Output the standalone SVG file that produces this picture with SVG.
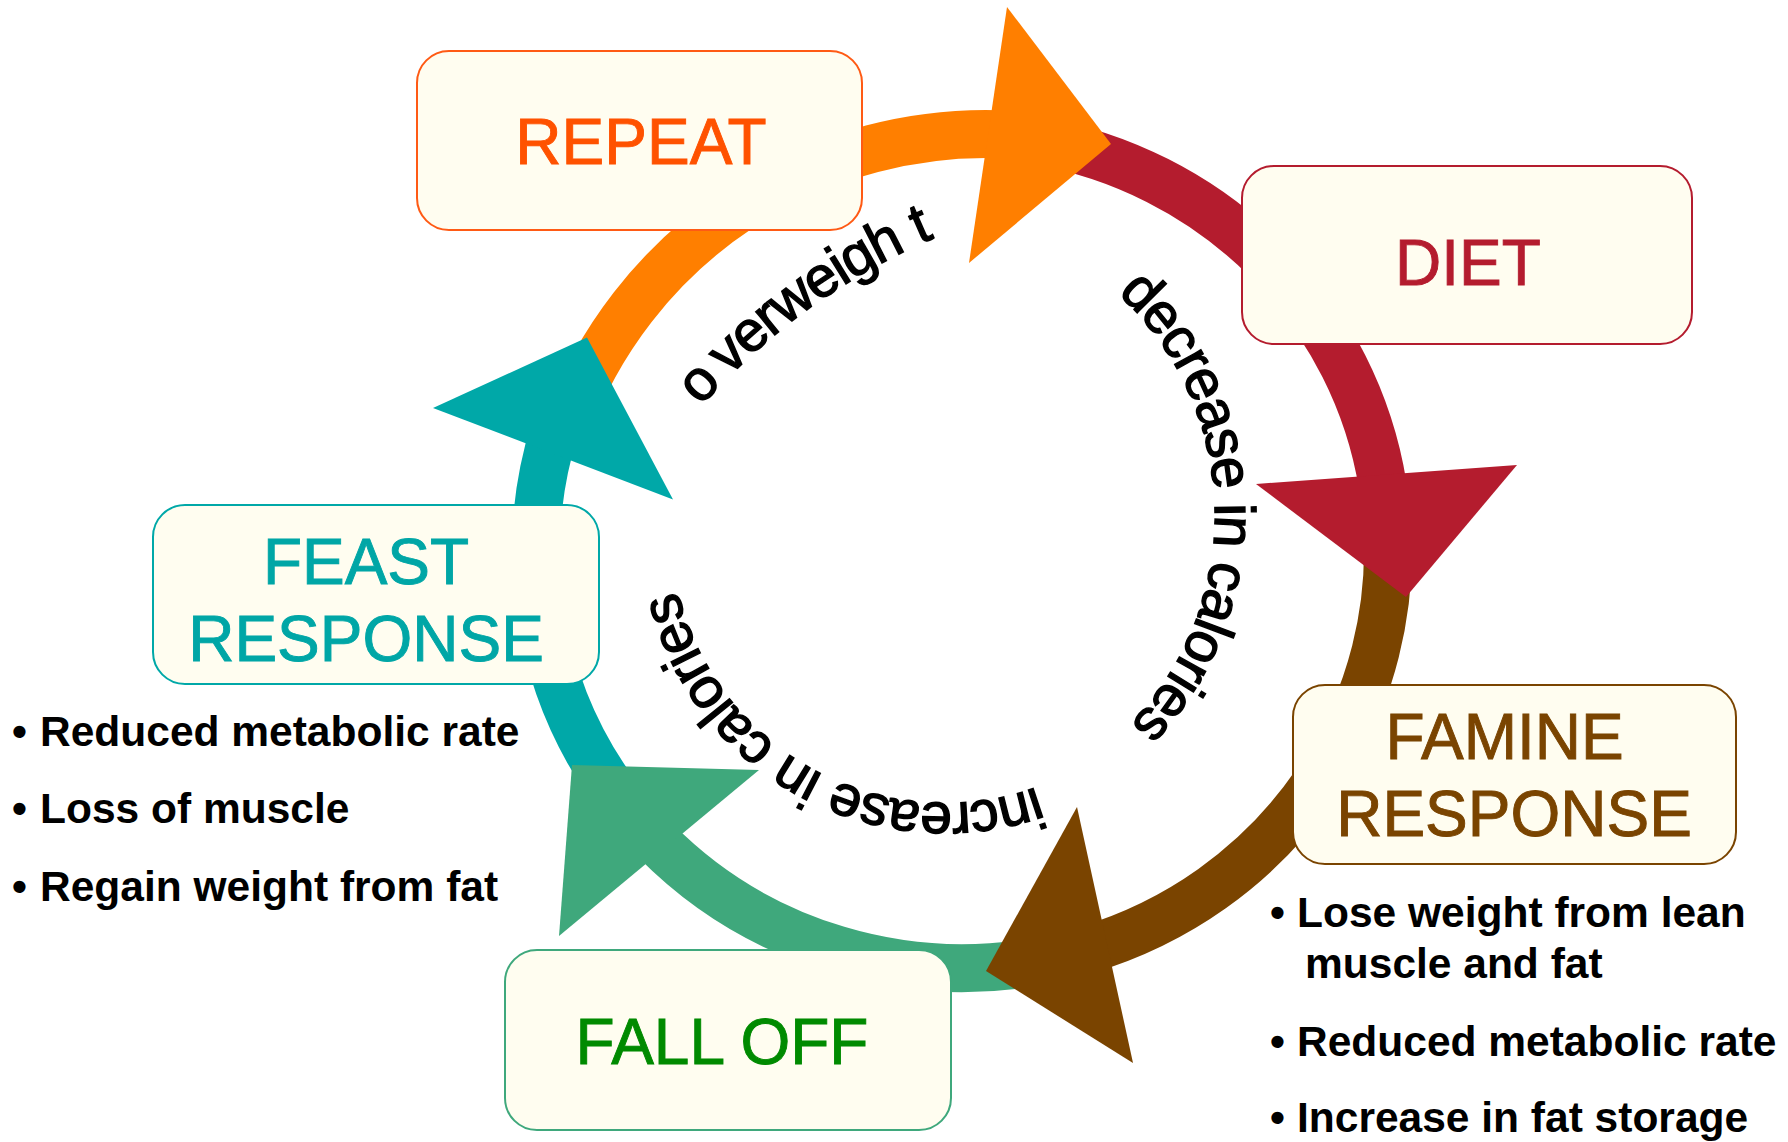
<svg xmlns="http://www.w3.org/2000/svg" width="1788" height="1142" viewBox="0 0 1788 1142">
<defs>
<style>
.band{fill:none;stroke-width:48;stroke-linecap:butt}
.box{fill:#FFFDF0;stroke-width:2}
.title{font-family:"Liberation Sans",Arial,sans-serif;font-size:64px;text-anchor:middle;stroke-width:0.9}
.bul{font-family:"Liberation Sans",Arial,sans-serif;font-size:42.5px;font-weight:bold;fill:#000000}
.curve{font-family:"Liberation Sans",Arial,sans-serif;font-size:57px;letter-spacing:-1.4px;fill:#000000;stroke:#000000;stroke-width:1.4}
</style>
<path id="p-over" d="M701.2,406.3 A649,649 0 0 1 1076.1,196.1"/>
<path id="p-dec" d="M1117.4,293.3 A301,301 0 0 1 1085.2,762.4"/>
<path id="p-inc" d="M1036.6,787.2 A274,274 0 0 1 671.75,552.3"/>
</defs>
<rect width="1788" height="1142" fill="#FFFFFF"/>

<g id="connectors">
<path class="band" stroke="#FF7F00" d="M565.95,428.12 A447,447 0 0 1 1009.39,134.61"/>
<path class="band" stroke="#B41C2E" d="M1035.97,140.33 A426,417 0 0 1 1382.76,485.77"/>
<path class="band" stroke="#7A4400" d="M1386.38,514.65 A426,417 0 0 1 1086.55,949.78"/>
<path class="band" stroke="#3FA87C" d="M1050.57,958.89 A426,417 0 0 1 655.56,840.67"/>
<path class="band" stroke="#00A8A8" d="M613.04,790.18 A426,417 0 0 1 554.62,429.08"/>
<polygon fill="#FF7F00" points="1007,7 1111,144 969,263"/>
<polygon fill="#B41C2E" points="1256,484 1517,465 1406,597"/>
<polygon fill="#7A4400" points="1077,807 1133,1063 986,971"/>
<polygon fill="#3FA87C" points="572,765 759,770 559,936"/>
<polygon fill="#00A8A8" points="433,408 587,337.5 673,499.5"/>
<text class="curve" font-size="60" letter-spacing="-2.2"><textPath href="#p-over"><tspan dx="0 11 0 0 0 0 0 0 0 16">overweight</tspan></textPath></text>
<text class="curve"><textPath href="#p-dec">decrease in calories</textPath></text>
<text class="curve"><textPath href="#p-inc">increase in calories</textPath></text>
</g>

<g id="repeat">
<rect class="box" x="417" y="51" width="445" height="179" rx="32" stroke="#FF5A14"/>
<text class="title" x="641" y="164" fill="#FF5200" stroke="#FF5200">REPEAT</text>
</g>

<g id="diet">
<rect class="box" x="1242" y="166" width="450" height="178" rx="32" stroke="#B41C2E"/>
<text class="title" x="1468" y="285" fill="#B41C2E" stroke="#B41C2E">DIET</text>
</g>

<g id="famine">
<rect class="box" x="1293" y="685" width="443" height="179" rx="32" stroke="#7A4400"/>
<text class="title" fill="#7A4400" stroke="#7A4400"><tspan x="1504.5" y="759">FAMINE</tspan><tspan x="1514" y="836">RESPONSE</tspan></text>
<text class="bul" y="927"><tspan x="1270">•</tspan><tspan x="1297">Lose weight from lean</tspan></text>
<text class="bul" x="1305" y="978">muscle and fat</text>
<text class="bul" y="1056"><tspan x="1270">•</tspan><tspan x="1297">Reduced metabolic rate</tspan></text>
<text class="bul" y="1132"><tspan x="1270">•</tspan><tspan x="1297">Increase in fat storage</tspan></text>
</g>

<g id="falloff">
<rect class="box" x="505" y="950" width="446" height="180" rx="32" stroke="#3FA87C"/>
<text class="title" x="722" y="1064" fill="#008A00" stroke="#008A00">FALL OFF</text>
</g>

<g id="feast">
<rect class="box" x="153" y="505" width="446" height="179" rx="32" stroke="#00A8A8"/>
<text class="title" fill="#00A6A6" stroke="#00A6A6"><tspan x="366" y="584">FEAST</tspan><tspan x="366" y="661">RESPONSE</tspan></text>
<text class="bul" y="746"><tspan x="12">•</tspan><tspan x="40">Reduced metabolic rate</tspan></text>
<text class="bul" y="823"><tspan x="12">•</tspan><tspan x="40">Loss of muscle</tspan></text>
<text class="bul" y="901"><tspan x="12">•</tspan><tspan x="40">Regain weight from fat</tspan></text>
</g>
</svg>
